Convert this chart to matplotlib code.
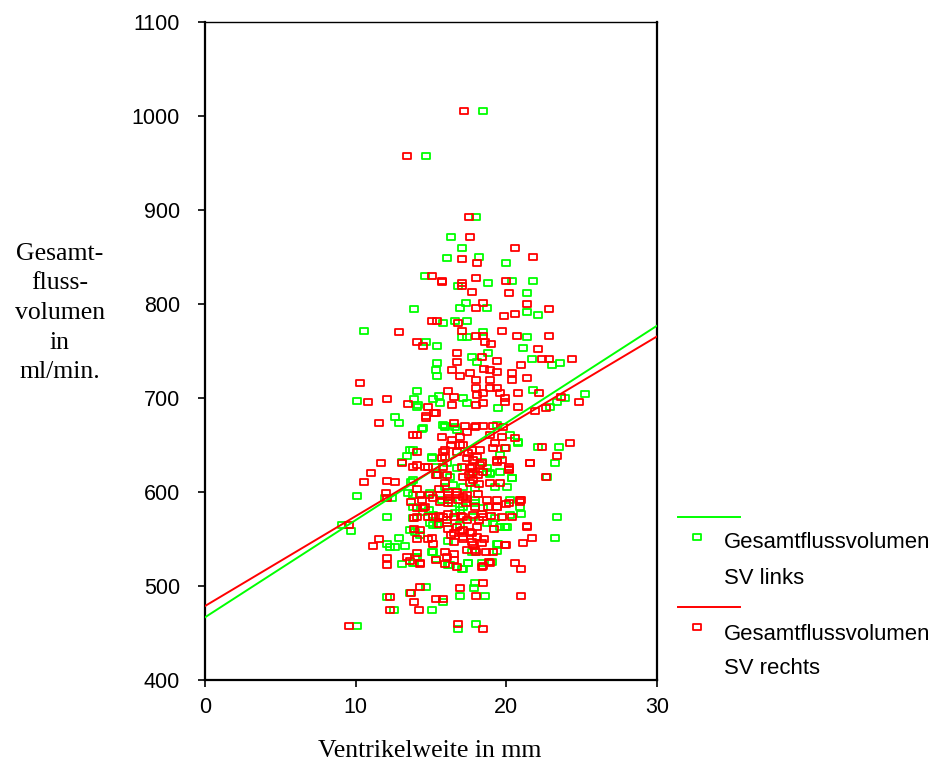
import numpy as np
import matplotlib
matplotlib.use("Agg")
import matplotlib.pyplot as plt
from matplotlib.lines import Line2D
from matplotlib.path import Path

# ---------------- data ----------------
links_x = [18.45, 14.7, 18.0, 16.3, 17.05, 16.05, 18.2, 20.0, 14.6, 18.8, 20.4, 16.8, 21.8, 21.4,
           13.9, 10.55, 16.9, 17.3, 18.7, 15.8, 16.6, 17.4, 14.7, 15.4, 17.05, 17.4, 18.45, 18.8,
           15.4, 15.3, 15.4, 17.7, 18.05, 14.1, 13.9, 14.1, 15.1, 15.5, 10.1, 12.6, 12.9, 14.5,
           15.9, 17.1, 21.4,
           22.1, 21.4, 21.1, 21.7, 23.0, 23.55, 25.2, 23.9, 23.35, 22.9, 21.8, 20.8, 23.5, 23.2,
           22.7, 21.0, 23.35, 23.2,
           15.8, 16.6, 13.6, 13.4, 13.1, 15.05, 15.3, 10.1, 11.95, 12.4, 13.5, 13.7, 12.1, 13.8,
           13.6, 14.3, 15.4, 14.9, 9.7, 9.1, 18.7, 18.9, 20.4, 20.0, 19.6, 17.9, 18.45, 16.9,
           15.9, 19.6, 19.9, 12.3, 12.9,
           14.13, 15.59, 17.39, 19.44, 14.4, 15.93, 16.72, 19.38, 20.24, 20.77, 22.1, 13.8,
           15.06, 16.06, 16.72, 18.38, 18.71, 18.91, 19.57, 13.8, 15.46, 16.26, 17.72, 20.37,
           16.46, 17.12, 17.92, 19.24, 20.04, 13.8, 14.93, 15.73, 16.39, 17.12, 17.92, 20.24,
           20.9, 13.8, 14.47, 15.13, 16.59, 17.78, 19.24, 20.24, 14.93, 16.06, 16.92, 18.71,
           13.93, 15.13, 15.06, 13.93, 13.8, 16.12, 16.26, 17.12, 17.45, 17.92, 18.38, 19.04,
           19.44, 20.04, 19.11,
           12.1, 12.6, 13.3, 13.1, 13.9, 14.1, 15.1, 15.3, 16.1, 17.05, 17.45, 17.7, 19.4, 19.4,
           14.7, 13.6, 12.1, 12.55, 15.05, 15.8, 16.9, 17.85, 17.9, 18.6, 16.8, 18.0, 10.1]
links_y = [1005, 957, 893, 871, 860, 849, 850, 844, 830, 822, 824, 819, 824, 812,
           795, 771, 796, 801, 796, 780, 782, 782, 760, 755, 765, 765, 770, 748,
           737, 730, 723, 744, 738, 707, 699, 690, 699, 702, 697, 680, 673, 668,
           670, 700, 791,
           788, 765, 753, 741, 735, 737, 704, 700, 696, 690, 709, 652, 648, 631,
           616, 577, 573, 551,
           671, 669, 645, 638, 632, 637, 627, 596, 594, 594, 599, 611, 573, 572,
           560, 554, 565, 581, 558, 565, 621, 619, 615, 647, 639, 588, 583, 581,
           605, 563, 563, 541, 551,
           693, 695, 695, 689, 667, 669, 666, 671, 661, 653, 648, 645,
           636, 631, 626, 632, 626, 620, 621, 613, 618, 616, 620, 615,
           607, 605, 604, 605, 605, 597, 599, 592, 588, 584, 592, 592,
           584, 584, 579, 576, 578, 573, 572, 576, 567, 567, 565, 567,
           557, 565, 536, 531, 525, 548, 522, 518, 525, 536, 525, 526,
           545, 563, 567,
           545, 541, 543, 523, 524, 531, 536, 529, 522, 518, 524, 536, 545, 537,
           499, 493, 488, 474, 474, 483, 489, 498, 503, 489, 454, 460, 457]

rechts_x = [17.2, 13.4, 17.5, 17.6, 20.6, 17.05, 18.05, 15.06, 15.7, 18.0, 20.0, 17.05, 21.8,
            15.7, 17.05, 17.7, 20.2, 21.4, 18.0, 18.45, 19.85, 20.6, 15.05, 15.4, 16.8, 12.9,
            17.05, 19.7, 18.0, 18.45, 18.6, 19.0, 20.7, 14.1, 14.45, 16.7, 16.7, 18.4, 19.4,
            16.4, 16.9, 17.6, 18.5, 18.9, 19.4, 20.4, 21.0, 10.3, 18.0, 18.9, 20.4, 18.0, 18.9,
            19.4, 16.1, 16.5, 18.05, 18.45, 19.6, 19.9, 20.8, 10.8, 12.1, 13.5, 14.8, 16.4,
            18.0, 18.45, 19.9, 20.8, 15.2, 14.7, 11.55, 16.5, 18.0, 18.45, 19.1,
            22.8, 22.8, 22.1, 22.4, 22.8, 24.35, 21.4, 22.2, 23.6, 24.8, 22.6, 21.9, 20.6, 22.4,
            24.2, 23.35, 21.6, 22.6, 21.0, 21.4, 21.7, 21.1, 20.6, 21.0, 21.0,
            14.1, 15.7, 16.4, 16.9, 17.4, 17.9, 19.8, 19.7, 14.1, 13.1, 13.8, 14.8, 15.9, 15.9,
            16.7, 17.1, 17.7, 17.4, 18.05, 18.4, 15.8, 17.05, 17.7, 19.4, 19.7, 20.2, 11.7,
            11.05, 10.55, 12.1, 12.6, 15.4, 16.05, 15.9, 17.1, 17.8, 18.45, 17.8, 12.0, 12.1,
            13.7, 14.3, 14.9, 15.6, 16.1, 16.7, 17.1, 17.4, 15.6, 16.1, 14.1, 14.6, 14.1, 15.1,
            15.8, 16.5, 17.1, 17.8, 18.45, 19.4, 20.2, 20.9, 20.4, 16.05, 16.7, 17.1, 17.6,
            18.05, 17.1, 18.05, 15.05, 16.3, 11.55, 11.15, 14.3, 17.8, 20.0, 9.55,
            14.7, 15.3, 13.8, 17.25, 18.9, 19.25, 16.3, 16.9, 15.8, 17.45, 18.25, 19.1, 19.9,
            15.7, 17.8, 19.4, 20.2, 21.6, 14.1, 14.6, 17.6, 18.25, 20.2, 15.3, 17.5, 18.1,
            17.6, 18.2, 18.9, 19.6, 14.1, 15.5, 16.1, 16.7, 17.4, 18.1, 18.7, 19.4, 20.0, 20.9,
            14.4, 15.1, 14.5, 16.1, 16.8, 17.3, 17.9, 18.8, 19.4, 14.8, 15.5, 16.1, 17.0, 18.4,
            19.0, 13.9, 17.4, 18.2, 19.7, 21.4, 15.5,
            13.9, 14.8, 15.1, 14.1, 16.1, 16.5, 16.5, 16.9, 17.1, 17.7, 17.7, 18.4, 18.5, 19.2,
            17.4, 17.9, 15.9, 14.1, 19.9, 16.5, 16.5, 15.9, 16.7, 15.3, 14.3, 13.6, 18.4, 18.9,
            12.1, 12.1, 13.4, 14.3, 16.05, 18.0, 18.65, 19.1, 18.85, 18.45, 14.3, 13.7, 12.3,
            12.3, 13.9, 14.2, 15.3, 15.8, 16.9, 18.45, 18.0, 16.8, 18.45, 9.55]
rechts_y = [1005, 957, 893, 871, 860, 848, 844, 830, 824, 828, 824, 819, 850,
            823, 822, 813, 812, 800, 796, 801, 787, 789, 782, 782, 780, 770,
            771, 771, 766, 766, 760, 757, 766, 760, 755, 748, 738, 744, 739,
            730, 723, 727, 731, 730, 728, 727, 735, 716, 719, 719, 719, 711, 711,
            711, 707, 701, 703, 705, 705, 700, 705, 696, 699, 694, 690, 693,
            693, 695, 696, 690, 684, 679, 673, 673, 670, 670, 670,
            795, 766, 752, 741, 741, 741, 721, 705, 701, 696, 689, 686, 657, 648,
            652, 638, 631, 616, 591, 563, 551, 546, 524, 518, 489,
            661, 659, 655, 659, 664, 669, 669, 659, 643, 631, 627, 627, 645, 637,
            643, 650, 645, 636, 637, 631, 627, 627, 627, 634, 634, 625, 631,
            620, 611, 612, 611, 618, 618, 610, 616, 621, 621, 613, 599, 594,
            589, 597, 597, 597, 597, 597, 595, 593, 589, 588, 583, 584, 573, 573,
            573, 573, 573, 576, 573, 584, 588, 591, 573, 570, 563, 560, 557,
            563, 552, 552, 551, 554, 550, 543, 560, 544, 544, 565,
            681, 684, 661, 670, 661, 652, 650, 650, 643, 641, 645, 647, 647,
            636, 634, 632, 627, 631, 629, 627, 626, 629, 623, 618, 618, 618,
            610, 609, 610, 610, 603, 603, 600, 600, 597, 598, 592, 592, 587, 589,
            592, 594, 583, 591, 591, 588, 584, 584, 584, 573, 575, 577, 575, 577,
            575, 572, 570, 570, 573, 564, 566,
            561, 550, 545, 550, 561, 556, 547, 559, 550, 556, 547, 546, 550, 561,
            538, 538, 536, 535, 544, 534, 528, 523, 520, 528, 523, 527, 520, 525,
            530, 522, 531, 524, 531, 536, 536, 536, 526, 521, 499, 493, 488,
            474, 483, 474, 486, 486, 498, 503, 489, 460, 454, 457]

# linear fit lines (intercept, slope)
fit_links = [466.7, 10.34]
fit_rechts = [478.7, 9.56]

x_ticks = [0, 10, 20, 30]
y_ticks = [400, 500, 600, 700, 800, 900, 1000, 1100]

legend_labels = ["Gesamtflussvolumen\nSV links", "Gesamtflussvolumen\nSV rechts"]
x_label = "Ventrikelweite in mm"
y_label = "Gesamt-\nfluss-\nvolumen\nin\nml/min."

# ---------------- style ----------------
GREEN = "#00ff00"
RED = "#ff0000"
sans = ["Liberation Sans", "DejaVu Sans"]
serif = ["Liberation Serif", "DejaVu Serif"]

W, H = 934, 772
fig = plt.figure(figsize=(W / 100, H / 100), dpi=100)
ax = fig.add_axes([205 / W, 1 - 680 / H, (657 - 205) / W, (680 - 22) / H])

rect = Path([(-1, -0.8), (1, -0.8), (1, 0.8), (-1, 0.8), (-1, -0.8)],
            [Path.MOVETO, Path.LINETO, Path.LINETO, Path.LINETO, Path.CLOSEPOLY])
mkw = dict(marker=rect, linestyle="none", markersize=6.2, markerfacecolor="none",
           markeredgewidth=1.3)

ax.plot(links_x, links_y, markeredgecolor=GREEN, **mkw, zorder=2)
ax.plot(rechts_x, rechts_y, markeredgecolor=RED, **mkw, zorder=3)

xx = np.array([x_ticks[0], x_ticks[-1]], dtype=float)
ax.plot(xx, fit_links[0] + fit_links[1] * xx, color=GREEN, lw=1.4, zorder=4)
ax.plot(xx, fit_rechts[0] + fit_rechts[1] * xx, color=RED, lw=1.4, zorder=5)

ax.set_xlim(x_ticks[0], x_ticks[-1])
ax.set_ylim(y_ticks[0], y_ticks[-1])
ax.set_xticks(x_ticks)
ax.set_yticks(y_ticks)
ax.tick_params(axis="both", direction="out", length=5, width=1.2, colors="black",
               labelsize=15.5)
ax.tick_params(axis="y", pad=13)
ax.tick_params(axis="x", pad=7)
for lab in ax.get_xticklabels() + ax.get_yticklabels():
    lab.set_family(sans)
for side in ["left", "bottom", "right", "top"]:
    ax.spines[side].set_linewidth(1.6)
ax.spines["top"].set_linewidth(1.0)

fig.text(60 / W, 1 - 313 / H, y_label, family=serif, fontsize=18.5, ha="center",
         va="center", multialignment="center", linespacing=1.45)
fig.text(430 / W, 1 - 751 / H, x_label, family=serif, fontsize=18.5, ha="center",
         va="center")

# ---------------- legend (manual, outside right) ----------------
def fx(px):
    return px / W

def fy(py):
    return 1 - py / H

for col, ly, my, ty1, ty2, lab in [(GREEN, 517, 537, 542, 579, legend_labels[0]),
                                    (RED, 607, 627, 634, 669, legend_labels[1])]:
    fig.add_artist(Line2D([fx(678), fx(740)], [fy(ly), fy(ly)], color=col, lw=1.4))
    fig.add_artist(Line2D([fx(697)], [fy(my)], markeredgecolor=col, **mkw))
    l1, l2 = lab.split("\n")
    fig.text(fx(724), fy(ty1), l1, family=sans, fontsize=15.9, ha="left", va="center")
    fig.text(fx(724), fy(ty2), l2, family=sans, fontsize=15.9, ha="left", va="center")

fig.savefig("out.png", dpi=100)
